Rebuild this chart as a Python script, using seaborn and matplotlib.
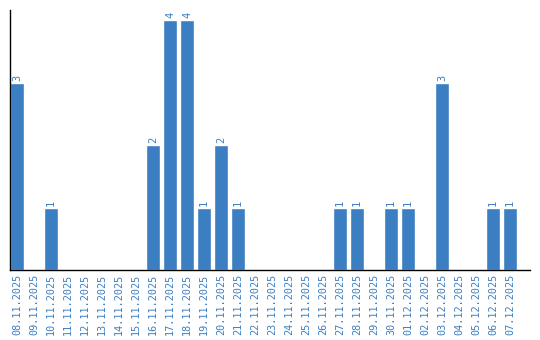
import matplotlib
matplotlib.use("Agg")
import matplotlib.pyplot as plt
import seaborn as sns
import pandas as pd

dates = ["08.11.2025", "09.11.2025", "10.11.2025", "11.11.2025", "12.11.2025",
         "13.11.2025", "14.11.2025", "15.11.2025", "16.11.2025", "17.11.2025",
         "18.11.2025", "19.11.2025", "20.11.2025", "21.11.2025", "22.11.2025",
         "23.11.2025", "24.11.2025", "25.11.2025", "26.11.2025", "27.11.2025",
         "28.11.2025", "29.11.2025", "30.11.2025", "01.12.2025", "02.12.2025",
         "03.12.2025", "04.12.2025", "05.12.2025", "06.12.2025", "07.12.2025"]
counts = [3, 0, 1, 0, 0, 0, 0, 0, 2, 4, 4, 1, 2, 1, 0, 0, 0, 0, 0, 1,
          1, 0, 1, 1, 0, 3, 0, 0, 1, 1]

blue = "#3b7ec2"
sns.set_theme(style="white")
plt.rcParams['font.family'] = ['DejaVu Sans Mono', 'DejaVu Sans']

df = pd.DataFrame({"date": dates, "count": counts})
fig = plt.figure(figsize=(5.4, 3.4), dpi=100)
ax = fig.add_axes([10/540, 70/340, 520/540, 260/340])
sns.barplot(data=df, x="date", y="count", color=blue, saturation=1, width=0.82, ax=ax)

for i, v in enumerate(counts):
    if v > 0:
        ax.text(i, v + 0.03, str(v), rotation=90, ha="center", va="bottom",
                color=blue, fontsize=7.5)

ax.set_xlim(-0.41, 30.18)
ax.set_ylim(0, 4.16)
ax.set_xlabel("")
ax.set_ylabel("")
ax.set_yticks([])
ax.tick_params(axis="x", rotation=90, labelsize=7.3, labelcolor=blue, length=0, pad=3)
for lbl in ax.get_xticklabels():
    lbl.set_va("top")
for s in ["top", "right"]:
    ax.spines[s].set_visible(False)
for s in ["left", "bottom"]:
    ax.spines[s].set_color("black")
    ax.spines[s].set_linewidth(1.0)

fig.savefig("out.png", dpi=100)
